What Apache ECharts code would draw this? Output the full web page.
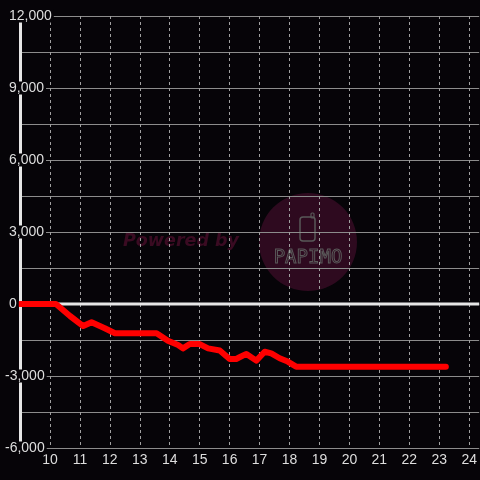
<!DOCTYPE html>
<html>
<head>
<meta charset="utf-8">
<script src="https://cdn.jsdelivr.net/npm/echarts@6/dist/echarts.min.js"></script>
<style>html,body{margin:0;padding:0;background:#060408;}#c{width:480px;height:480px;overflow:hidden;}</style>
</head>
<body>
<div id="c"></div>
<script>
// Data: time (hours) and value
var times  = [9, 10.2, 10.67, 11.11, 11.39, 11.83, 12.17, 13.56, 13.94, 14.28, 14.44, 14.67, 15.0, 15.28, 15.67, 16.0, 16.22, 16.33, 16.56, 16.89, 17.17, 17.39, 17.67, 17.94, 18.22, 23.22];
var values = [0, 0, -500, -920, -760, -1010, -1220, -1220, -1530, -1710, -1850, -1670, -1670, -1850, -1940, -2290, -2290, -2220, -2080, -2360, -1990, -2060, -2260, -2400, -2610, -2610];
var xMin = 9, xMax = 24.333;
var yMin = -6000, yMax = 12000;
var zeroLine = [[xMin, 0], [xMax, 0]];

var BG = '#060408';
var seriesData = times.map(function (t, i) { return [t, values[i]]; });

// one colour per vertical grid line (9..24 plus the axis end); the end line is hidden
var vColors = [];
for (var k = 0; k < 16; k++) vColors.push('#a0a0a0');
vColors.push('rgba(0,0,0,0)');

function fmtNum(v) {
  return String(Math.abs(v)).replace(/\B(?=(\d{3})+(?!\d))/g, ',');
}
var labelCommon = {
  color: '#dedede', fontSize: 14, fontFamily: 'Liberation Sans, Arial, sans-serif',
  align: 'left', backgroundColor: BG, padding: [0, 2], lineHeight: 13
};

var chart = echarts.init(document.getElementById('c'), null, {renderer: 'canvas'});
chart.setOption({
  backgroundColor: BG,
  animation: false,
  grid: {left: 20, right: 0, top: 16, bottom: 32, containLabel: false},
  graphic: [
    {type: 'circle', z: -10, shape: {cx: 308, cy: 242, r: 49}, style: {fill: '#2e0a1f'}},
    {type: 'text', z: -9, style: {x: 123, y: 241, text: 'Powered by', fill: '#3a0b22',
      font: 'italic bold 17.5px "DejaVu Sans", sans-serif', verticalAlign: 'middle'}},
    {type: 'rect', z: -9, shape: {x: 300, y: 217, width: 15, height: 24, r: 3},
      style: {fill: 'none', stroke: '#585858', lineWidth: 1.5}},
    {type: 'rect', z: -9, shape: {x: 311, y: 213, width: 3, height: 5, r: 1},
      style: {fill: 'none', stroke: '#585858', lineWidth: 1.2}},
    {type: 'text', z: -9, style: {x: 308, y: 258, text: 'PAPIMO', fill: 'none', stroke: '#5a5a5a', lineWidth: 1,
      font: '19px "DejaVu Sans Mono", monospace', align: 'center', verticalAlign: 'middle'}}
  ],
  xAxis: [{
    type: 'value', position: 'bottom', min: xMin, max: xMax, interval: 1,
    axisLine: {show: false}, axisTick: {show: false},
    splitLine: {show: true, showMaxLine: false, lineStyle: {color: vColors, width: 1, type: [3, 3]}},
    axisLabel: {
      color: '#dedede', fontSize: 14, fontFamily: 'Liberation Sans, Arial, sans-serif', margin: 5,
      showMinLabel: true, showMaxLabel: false,
      formatter: function (v) { return (v >= 10 && Math.abs(v - Math.round(v)) < 1e-6) ? String(Math.round(v)) : ''; }
    }
  }],
  yAxis: [{
    type: 'value', position: 'left', min: yMin, max: yMax, interval: 1500, z: 0,
    axisLine: {show: true, lineStyle: {color: '#e6e6e6', width: 3}},
    axisTick: {show: false}, axisLabel: {show: false},
    splitLine: {show: true, lineStyle: {color: '#8c8c8c', width: 1}}
  }, {
    type: 'value', position: 'left', min: yMin, max: yMax, interval: 1500, z: 4,
    axisLine: {show: false}, axisTick: {show: false}, splitLine: {show: false},
    axisLabel: Object.assign({}, labelCommon, {margin: 13,
      formatter: function (v) { return (v >= 0 && v % 3000 === 0) ? (v === 0 ? '0' : fmtNum(v)) : ''; }})
  }, {
    type: 'value', position: 'left', min: yMin, max: yMax, interval: 1500, z: 4,
    axisLine: {show: false}, axisTick: {show: false}, splitLine: {show: false},
    axisLabel: Object.assign({}, labelCommon, {margin: 17,
      formatter: function (v) { return (v < 0 && v % 3000 === 0) ? '-' + fmtNum(v) : ''; }})
  }],
  series: [{
    type: 'line', name: 'zero', data: zeroLine, yAxisIndex: 0, z: 1, silent: true,
    symbol: 'none', lineStyle: {color: '#e6e6e6', width: 3}
  }, {
    type: 'line', name: 'value', data: seriesData, yAxisIndex: 0, z: 3,
    symbol: 'none', lineStyle: {color: '#ff0000', width: 6, cap: 'round', join: 'round'}
  }]
});
</script>
</body>
</html>
